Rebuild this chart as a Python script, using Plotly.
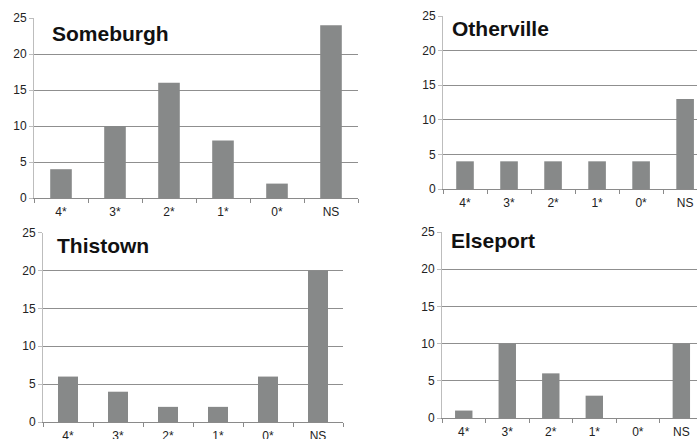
import plotly.graph_objects as go

categories = ["4*", "3*", "2*", "1*", "0*", "NS"]
someburgh = [4, 10, 16, 8, 2, 24]
otherville = [4, 4, 4, 4, 4, 13]
thistown = [6, 4, 2, 2, 6, 20]
elseport = [1, 10, 6, 3, 0, 10]
panel_names = ["Someburgh", "Otherville", "Thistown", "Elseport"]
y_ticks = [0, 5, 10, 15, 20, 25]

W, H = 697, 439
BAR = "#878989"
GRID = "#8f8f8f"
YLINE = "#bdbdbd"
XLINE = "#8a8a8a"
FONT = "Arial, Liberation Sans, sans-serif"

# page-pixel geometry of each panel: (left, right, zero_y, top_y, xrange_right)
geo = [
    (34, 358, 198, 18, 5.5),
    (443, 697, 189, 16, 5.27),
    (43, 343, 422, 232.7, 5.5),
    (442, 697, 418, 232, 5.36),
]
series = [someburgh, otherville, thistown, elseport]
title_pos = [(50, 33), (450, 28), (55, 245), (449, 240)]


def px(x):
    return x / W


def py(y):
    return (H - y) / H


fig = go.Figure()
layout = dict(
    template="none",
    width=W, height=H, margin=dict(l=0, r=0, t=0, b=0, pad=0, autoexpand=False),
    paper_bgcolor="white", plot_bgcolor="white",
    showlegend=False, bargap=0.6,
    font=dict(family=FONT, size=12, color="#222"),
)
annotations = []
for i, (vals, (l, r, z, t, xr)) in enumerate(zip(series, geo)):
    n = i + 1
    xa = "x" if n == 1 else f"x{n}"
    ya = "y" if n == 1 else f"y{n}"
    fig.add_trace(go.Bar(x=categories, y=vals, marker=dict(color=BAR, line=dict(width=0)),
                         xaxis=xa, yaxis=ya, hoverinfo="x+y"))
    xk = "xaxis" if n == 1 else f"xaxis{n}"
    yk = "yaxis" if n == 1 else f"yaxis{n}"
    layout[xk] = dict(
        domain=[px(l), min(px(r), 1)], anchor=ya, range=[-0.5, xr], automargin=False,
        type="category", showline=True, linecolor=XLINE, linewidth=1,
        ticks="outside", tickson="boundaries", ticklen=4, tickcolor=XLINE,
        ticklabelstandoff=3,
        showgrid=False, zeroline=False, tickfont=dict(size=12, color="#222"),
        fixedrange=True,
    )
    layout[yk] = dict(
        domain=[py(z), py(t)], anchor=xa, range=[0, 25], automargin=False,
        tickvals=y_ticks, showline=True, linecolor=YLINE, linewidth=1,
        ticks="outside", ticklen=4, tickcolor=YLINE,
        showgrid=True, gridcolor=GRID, gridwidth=1, zeroline=False,
        tickfont=dict(size=12, color="#222"), fixedrange=True,
    )
    tx, ty = title_pos[i]
    annotations.append(dict(
        text=f"<b>{panel_names[i]}</b>", xref="paper", yref="paper",
        x=px(tx), y=py(ty), xanchor="left", yanchor="middle",
        showarrow=False, font=dict(size=21, color="#111", family=FONT),
    ))
layout["annotations"] = annotations
fig.update_layout(**layout)
fig.write_html(
    "out.html",
    config={"displayModeBar": False, "staticPlot": True},
    post_script="document.body.style.margin='0';document.body.style.overflow='hidden';",
)
